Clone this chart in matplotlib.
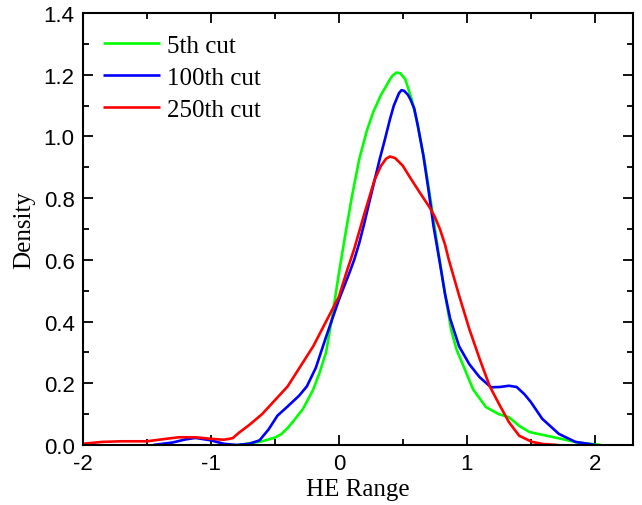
import matplotlib
matplotlib.use("Agg")
import matplotlib.pyplot as plt
from matplotlib.ticker import MultipleLocator

# ---- data ----
green_x = [-0.78, -0.6, -0.5, -0.45, -0.4, -0.35, -0.28, -0.2, -0.15, -0.1, -0.05, 0.0, 0.05, 0.1, 0.16,
           0.22, 0.27, 0.33, 0.37, 0.40, 0.42, 0.45, 0.48, 0.52, 0.57, 0.61, 0.67, 0.73, 0.78, 0.83, 0.88,
           0.92, 0.97, 1.05, 1.15, 1.25, 1.33, 1.41, 1.49, 1.58, 1.67, 1.77, 1.87, 2.05]
green_y = [0.0, 0.012, 0.024, 0.035, 0.055, 0.08, 0.117, 0.18, 0.235, 0.30, 0.42, 0.555, 0.68, 0.80, 0.927,
           1.02, 1.08, 1.135, 1.163, 1.185, 1.197, 1.207, 1.205, 1.185, 1.12, 1.05, 0.92, 0.76, 0.62, 0.49,
           0.37, 0.31, 0.26, 0.18, 0.123, 0.10, 0.09, 0.062, 0.042, 0.034, 0.026, 0.017, 0.008, 0.0]

blue_x = [-1.45, -1.3, -1.2, -1.12, -1.0, -0.9, -0.8, -0.7, -0.62, -0.55, -0.48, -0.4, -0.31, -0.25,
          -0.18, -0.1, 0.0, 0.08, 0.12, 0.16, 0.2, 0.24, 0.32, 0.36, 0.4, 0.43, 0.47, 0.49, 0.51, 0.54,
          0.56, 0.59, 0.62, 0.66, 0.7, 0.74, 0.79, 0.83, 0.87, 0.94, 1.02, 1.1, 1.19, 1.26, 1.33, 1.39,
          1.45, 1.5, 1.59, 1.72, 1.85, 2.01]
blue_y = [0.0, 0.008, 0.018, 0.023, 0.015, 0.004, 0.0, 0.004, 0.015, 0.05, 0.095, 0.125, 0.16, 0.19,
          0.25, 0.35, 0.47, 0.555, 0.60, 0.655, 0.72, 0.79, 0.927, 0.99, 1.056, 1.10, 1.14, 1.15, 1.148,
          1.135, 1.12, 1.09, 1.03, 0.94, 0.83, 0.71, 0.59, 0.49, 0.41, 0.32, 0.262, 0.22, 0.187, 0.188,
          0.192, 0.188, 0.165, 0.14, 0.085, 0.036, 0.01, 0.0]

red_x = [-2.0, -1.85, -1.7, -1.5, -1.35, -1.25, -1.12, -1.0, -0.9, -0.83, -0.78, -0.7, -0.6, -0.5, -0.4,
         -0.3, -0.2, -0.1, 0.0, 0.06, 0.12, 0.2, 0.28, 0.33, 0.37, 0.4, 0.44, 0.5, 0.56, 0.63, 0.71, 0.75,
         0.79, 0.83, 0.86, 0.94, 1.02, 1.1, 1.18, 1.26, 1.33, 1.41, 1.51, 1.6, 1.71]
red_y = [0.004, 0.01, 0.012, 0.012, 0.02, 0.025, 0.025, 0.02, 0.017, 0.022, 0.04, 0.065, 0.1, 0.145, 0.19,
         0.255, 0.32, 0.40, 0.48, 0.56, 0.635, 0.75, 0.86, 0.905, 0.928, 0.935, 0.93, 0.905, 0.865, 0.82,
         0.77, 0.74, 0.70, 0.65, 0.60, 0.485, 0.376, 0.28, 0.19, 0.127, 0.074, 0.03, 0.01, 0.003, 0.0]

labels = ["5th cut", "100th cut", "250th cut"]
colors = ["#00ff00", "#0000ff", "#ff0000"]

fig = plt.figure(figsize=(6.42, 5.06), dpi=100)
ax = fig.add_axes([0.1293, 0.1186, 0.8567, 0.8537])

series = [(green_x, green_y), (blue_x, blue_y), (red_x, red_y)]
for (xs, ys), lab, c in zip(series, labels, colors):
    ax.plot(xs, ys, color=c, lw=1.9, label=lab, solid_joinstyle="round", solid_capstyle="butt")

ax.set_xlim(-2, 2.3)
ax.set_ylim(0, 1.4)
ax.xaxis.set_minor_locator(MultipleLocator(0.5))
ax.yaxis.set_minor_locator(MultipleLocator(0.1))
ax.set_xticks([-2, -1, 0, 1, 2])
ax.set_xticklabels(["-2", "-1", "0", "1", "2"])
ax.set_yticks([0.0, 0.2, 0.4, 0.6, 0.8, 1.0, 1.2, 1.4])
ax.set_yticklabels(["0.0", "0.2", "0.4", "0.6", "0.8", "1.0", "1.2", "1.4"])

ax.tick_params(which="both", direction="in", top=True, right=True, width=1.3)
ax.tick_params(which="major", length=7)
ax.tick_params(which="minor", length=4.5)
ax.tick_params(axis="both", which="major", labelsize=16, pad=6)
for lbl in ax.get_xticklabels() + ax.get_yticklabels():
    lbl.set_fontfamily("Liberation Sans")
for s in ax.spines.values():
    s.set_linewidth(1.5)

ax.set_xlabel("HE Range", fontfamily="Liberation Serif", fontsize=18, labelpad=3)
ax.set_ylabel("Density", fontfamily="Liberation Serif", fontsize=18, labelpad=6)

leg = ax.legend(loc="upper left", bbox_to_anchor=(0.036, 0.951), frameon=False,
                prop={"family": "Liberation Serif", "size": 18}, handlelength=2.3,
                handletextpad=0.25, labelspacing=0.38, borderaxespad=0, borderpad=0)

fig.savefig("out.png", dpi=100)
